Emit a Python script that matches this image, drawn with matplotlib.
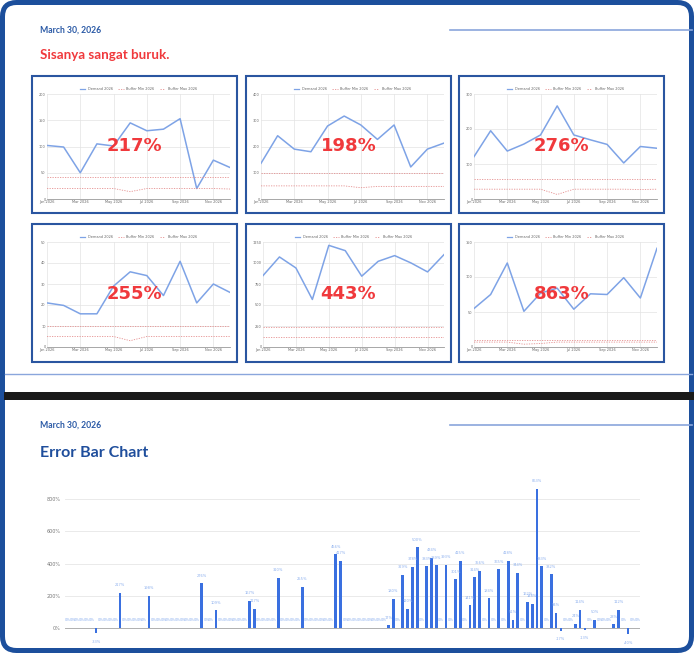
import matplotlib
matplotlib.use('Agg')
import matplotlib.pyplot as plt
from matplotlib.patches import FancyBboxPatch, Rectangle
from matplotlib.lines import Line2D

W, H = 694, 653

# six small demand panels
pct_labels = ['217%', '198%', '276%', '255%', '443%', '863%']
demand = [
    [102, 99, 50, 105, 101, 145, 130, 133, 153, 20, 74, 60],
    [136, 241, 190, 180, 278, 316, 282, 227, 282, 122, 190, 213],
    [121, 195, 137, 157, 183, 266, 183, 169, 156, 103, 150, 145],
    [21, 19.8, 15.8, 15.8, 29, 35.8, 34, 24.5, 40.8, 21, 30, 26],
    [850, 1072, 941, 566, 1210, 1147, 843, 1020, 1088, 1000, 894, 1100],
    [55, 75, 120, 51, 77, 84, 54, 76, 75, 99, 70, 141],
]
buffer_min = [
    [20, 20, 20, 20, 20, 14, 20, 20, 20, 20, 20, 19],
    [50, 50, 50, 50, 50, 50, 43, 48, 48, 48, 48, 48],
    [28, 28, 28, 28, 28, 13, 28, 28, 28, 28, 27, 28],
    [5, 5, 5, 5, 5, 3, 5, 5, 5, 5, 5, 5],
    [119, 119, 119, 119, 119, 119, 119, 119, 119, 119, 119, 119],
    [7, 7, 7, 4, 5, 7, 7, 7, 7, 7, 7, 7],
]
buffer_max = [
    [41, 41, 41, 41, 41, 41, 41, 41, 41, 41, 41, 41],
    [98, 98, 98, 98, 98, 98, 98, 98, 98, 98, 98, 98],
    [58, 58, 58, 58, 58, 58, 58, 58, 58, 58, 58, 58],
    [10, 10, 10, 10, 10, 10, 10, 10, 10, 10, 10, 10],
    [241, 241, 241, 241, 241, 241, 241, 241, 241, 241, 241, 241],
    [10, 10, 10, 10, 10, 10, 10, 10, 10, 10, 10, 10],
]
y_ticks = [
    [0, 50, 100, 150, 200],
    [0, 100, 200, 300, 400],
    [0, 100, 200, 300],
    [0, 10, 20, 30, 40, 50],
    [0, 250, 500, 750, 1000, 1250],
    [0, 50, 100, 150],
]
month_labels = ['Jan 2026', 'Mar 2026', 'May 2026', 'Jul 2026', 'Sep 2026', 'Nov 2026']

# error bar chart (120 categories, mostly zero)
err_values = [
    0, 0, 0, 0, 0, 0, -33, 0, 0, 0, 0, 217, 0, 0, 0, 0, 0, 198, 0, 0,
    0, 0, 0, 0, 0, 0, 0, 0, 276, 0, 0, 109, 0, 0, 0, 0, 0, 0, 167, 117,
    0, 0, 0, 0, 310, 0, 0, 0, 0, 255, 0, 0, 0, 0, 0, 0, 456, 417, 0, 0,
    0, 0, 0, 0, 0, 0, 0, 17, 180, 0, 329, 120, 378, 500, 0, 383, 434, 389, 0, 393,
    0, 301, 415, 0, 141, 314, 356, 0, 184, 0, 365, 0, 418, 51, 344, 0, 162, 148, 863, 383,
    0, 332, 94, -17, 0, 0, 24, 114, -13, 0, 50, 0, 0, 0, 23, 112, 0, -40, 0, 0,
]

NAVY = '#1f4e9c'
RED = '#f0393c'

fig = plt.figure(figsize=(W / 100, H / 100), dpi=100)


def px_axes(x, y, w, h, **kw):
    return fig.add_axes([x / W, 1 - (y + h) / H, w / W, h / H], **kw)


bg = px_axes(0, 0, W, H)
bg.set_xlim(0, W)
bg.set_ylim(H, 0)
bg.axis('off')

# frame and separators
bg.add_patch(FancyBboxPatch((2.5, 2.5), 689, 648, boxstyle='round,pad=0,rounding_size=14',
                            fill=False, ec='#1c4f9c', lw=3.6))
bg.plot([450, 692], [30, 30], color='#8aa6dc', lw=1.2)
bg.plot([5, 692], [374, 374], color='#8aa6dc', lw=1.0)
bg.add_patch(Rectangle((4, 392), 690, 8, color='#1a1a1a', lw=0))
bg.plot([450, 692], [425, 425], color='#8aa6dc', lw=1.2)

bg.text(40, 30, 'March 30, 2026', fontsize=6.2, fontweight='bold', color='#2b5aa6',
        va='center', family='Lato')
bg.text(40, 55, 'Sisanya sangat buruk.', fontsize=9.6, fontweight='bold', color=RED,
        va='center', family='Lato')
bg.text(40, 425, 'March 30, 2026', fontsize=6.2, fontweight='bold', color='#2b5aa6',
        va='center', family='Lato')
bg.text(40, 453, 'Error Bar Chart', fontsize=11.5, fontweight='bold', color=NAVY,
        va='center', family='Lato')

box_x = [32, 246, 459]
box_y = [76, 224]
ov_texts = []
for k in range(6):
    bx = box_x[k % 3]
    by = box_y[k // 3]
    bh = 137 if k < 3 else 138
    bg.add_patch(Rectangle((bx, by), 205, bh, fill=False, ec='#2a55a0', lw=1.5))
    left = 17 if k == 4 else 15
    ax = px_axes(bx + left, by + 18, 198 - left, 105)
    months = list(range(12))
    ax.plot(months, demand[k], color='#7ea3e6', lw=1.1)
    ax.plot(months, buffer_min[k], color='#e58f8f', lw=0.6, ls=(0, (1.5, 1.5)))
    ax.plot(months, buffer_max[k], color='#e58f8f', lw=0.6, ls=(0, (1.5, 1.5)))
    ax.set_xlim(0, 11)
    ax.set_ylim(0, y_ticks[k][-1])
    ax.set_xticks([0, 2, 4, 6, 8, 10])
    ax.set_xticklabels(month_labels)
    ax.set_yticks(y_ticks[k])
    ax.tick_params(labelsize=2.5, labelcolor='#666666', length=0, pad=1)
    ax.grid(True, color='#e3e3e3', lw=0.5)
    for s in ['top', 'right', 'left']:
        ax.spines[s].set_visible(False)
    ax.spines['bottom'].set_color('#999999')
    ax.spines['bottom'].set_linewidth(0.6)
    handles = [Line2D([], [], color='#7ea3e6', lw=0.9),
               Line2D([], [], color='#e58f8f', lw=0.6, ls=(0, (1.5, 1.5))),
               Line2D([], [], color='#e58f8f', lw=0.6, ls=(0, (1.5, 1.5)))]
    leg = ax.legend(handles, ['Demand 2026', 'Buffer Min 2026', 'Buffer Max 2026'],
                    loc='lower center', bbox_to_anchor=(0.5, 1.0), ncol=3, frameon=False,
                    fontsize=2.5, handlelength=1.5, columnspacing=1.5, borderpad=0.3)
    for t in leg.get_texts():
        t.set_color('#666666')
    ov_texts.append((bx + 102.5, by + 70, pct_labels[k]))

# error bar chart
ax = px_axes(65, 480, 575, 165)
idx = list(range(len(err_values)))
ax.bar(idx, err_values, width=0.55, color='#3a70e0', zorder=3)
for i, v in zip(idx, err_values):
    ax.annotate(f'{v}%', (i, v), xytext=(0, 5.5 if v >= 0 else -6),
                textcoords='offset points', ha='center', va='center',
                fontsize=2.6, color='#8db0ee', zorder=4)
scale = 800 / 129
ax.set_ylim(-(645 - 628) * scale, (628 - 480) * scale)
ax.set_xlim(-0.5, len(err_values) - 0.5)
ax.set_yticks([0, 200, 400, 600, 800])
ax.set_yticklabels(['0%', '200%', '400%', '600%', '800%'])
ax.set_xticks([])
ax.tick_params(labelsize=3.5, labelcolor='#777777', length=0, pad=3)
ax.grid(True, axis='y', color='#e6e6e6', lw=0.6)
ax.axhline(0, color='#b0b0b0', lw=0.7, zorder=2)
for s in ax.spines.values():
    s.set_visible(False)

ov = px_axes(0, 0, W, H, zorder=10)
ov.set_xlim(0, W)
ov.set_ylim(H, 0)
ov.patch.set_alpha(0)
ov.axis('off')
for x, y, t in ov_texts:
    ov.text(x, y, t, ha='center', va='center', fontsize=13, fontweight='bold',
            color=RED, family='DejaVu Sans')

fig.savefig('out.png', dpi=100)
